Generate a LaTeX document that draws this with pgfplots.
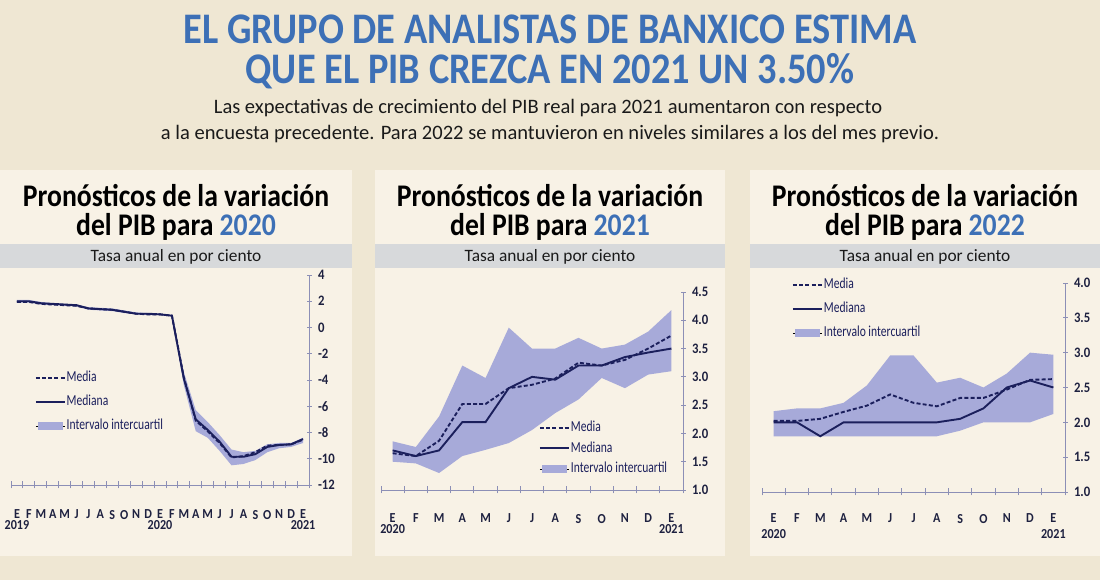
\documentclass[border=0pt]{standalone}
\usepackage{fontspec}
\setmainfont{Carlito}[FakeStretch=0.88]
\newfontfamily\widefont{Carlito}
\newfontfamily\condfont{Carlito}[FakeStretch=0.76]
\usepackage{pgfplots}
\pgfplotsset{compat=1.18}
\definecolor{bgout}{HTML}{EFE7D3}
\definecolor{panel}{HTML}{F8F2E6}
\definecolor{grayband}{HTML}{D7D9DB}
\definecolor{ttlblue}{HTML}{3D70B6}
\definecolor{navy}{HTML}{1B1F5C}
\definecolor{bandc}{HTML}{A7AAD9}
\definecolor{axiscol}{HTML}{8C8FB6}
\definecolor{tickc}{HTML}{1E2140}
\definecolor{txt}{HTML}{1A1A1A}

\tikzset{
  medline/.style={navy, line width=1.9bp},
  meanline/.style={navy, line width=1.9bp, dash pattern=on 4bp off 2.2bp},
}
\pgfplotsset{
  panel/.style={
    scale only axis,
    axis x line*=bottom, axis y line*=right,
    axis line style={axiscol, line width=0.9bp},
    tick style={axiscol, line width=0.9bp},
    major tick length=5bp, minor tick length=7bp,
    tick align=center,
    major x tick style={draw=none},
    yticklabel pos=right,
    /pgf/number format/assume math mode=true,
    yticklabel style={font=\bfseries\fontsize{14.5}{15}\selectfont, text=tickc, xshift=3bp},
    xticklabel style={font=\bfseries\fontsize{13.8}{10.5}\selectfont, text=tickc, align=center, anchor=north},
    legend style={draw=none, fill=none, inner sep=0pt, outer sep=0pt,
      font=\condfont\fontsize{15.3}{16}\selectfont, text=navy,
      nodes={inner sep=1bp, text height=11bp, text depth=3bp},
      cells={anchor=west}},
  },
  legmean/.style={legend image code/.code={\draw[navy, line width=1.9bp, dash pattern=on 4bp off 2.2bp] (0bp,0bp)--(29bp,0bp);}},
  legmed/.style={legend image code/.code={\draw[navy, line width=1.9bp] (0bp,0bp)--(29bp,0bp);}},
  legband/.style={legend image code/.code={\path (0bp,0bp)--(29bp,0bp); \fill[bandc] (2bp,-3.5bp) rectangle (26bp,3.5bp);}},
}
\newcommand\mylegend{%
\addlegendimage{legmean}
\addlegendentry{Media}
\addlegendimage{legmed}
\addlegendentry{Mediana}
\addlegendimage{legband}
\addlegendentry{Intervalo intercuartil}
}

\begin{document}
\begin{tikzpicture}[x=1bp,y=1bp]
\fill[bgout] (0,0) rectangle (1100,580);
% panels
\fill[panel] (0,24) rectangle (352,410);
\fill[panel] (375,24) rectangle (725,410);
\fill[panel] (750,24) rectangle (1100,410);
\fill[grayband] (0,312) rectangle (352,336);
\fill[grayband] (375,312) rectangle (725,336);
\fill[grayband] (750,312) rectangle (1100,336);

% headline
\node[anchor=base, text=ttlblue, font=\bfseries\fontsize{43.8}{44}\selectfont, inner sep=0pt] at (550,536) {EL GRUPO DE ANALISTAS DE BANXICO ESTIMA};
\node[anchor=base, text=ttlblue, font=\bfseries\fontsize{43.8}{44}\selectfont, inner sep=0pt] at (550,496) {QUE EL PIB CREZCA EN 2021 UN 3.50\%};
\node[anchor=base, text=txt, font=\widefont\fontsize{20.6}{21}\selectfont, inner sep=0pt] at (548,466) {Las expectativas de crecimiento del PIB real para 2021 aumentaron con respecto};
\node[anchor=base, text=txt, font=\widefont\fontsize{20.6}{21}\selectfont, inner sep=0pt] at (550,440) {a la encuesta precedente. Para 2022 se mantuvieron en niveles similares a los del mes previo.};

% panel titles
\foreach \cx/\yr in {176/2020, 550/2021, 925/2022}{
  \node[anchor=base, text=black, font=\bfseries\fontsize{31.6}{32}\selectfont, inner sep=0pt] at (\cx,373) {Pronósticos de la variación};
  \node[anchor=base, text=black, font=\bfseries\fontsize{31.6}{32}\selectfont, inner sep=0pt] at (\cx,344) {del PIB para \textcolor{ttlblue}{\yr}};
  \node[anchor=base, text=txt, font=\widefont\fontsize{17.4}{18}\selectfont, inner sep=0pt] at (\cx,318.5) {Tasa anual en por ciento};
}

% ---------- Panel 1 : 2020 ----------
\begin{axis}[panel, at={(11bp,95bp)}, anchor=south west, width=298bp, height=210bp,
  xmin=-0.5, xmax=24.5, ymin=-12, ymax=4,
  xtick={0,...,24},
  minor xtick={-0.5,0.5,...,24.5},
  xticklabels={{E\\2019},F,M,A,M,J,J,A,S,O,N,D,{E\\2020},F,M,A,M,J,J,A,S,O,N,D,{E\\2021}},
  xticklabel style={yshift=-19bp},
  ytick={-12,-10,...,4},
  legend style={at={(0.08,0.548)}, anchor=north west, row sep=8bp},
]
\mylegend
\addplot[fill=bandc, draw=none, forget plot] coordinates {
(0,2.1)(1,2.1)(2,1.95)(3,1.85)(4,1.8)(5,1.75)(6,1.55)(7,1.5)(8,1.45)(9,1.3)(10,1.15)(11,1.1)(12,1.05)(13,0.95)
(14,-3.4)(15,-6.3)(16,-7.2)(17,-8.2)(18,-9.3)(19,-9.5)(20,-9.4)(21,-8.9)(22,-8.8)(23,-8.8)(24,-8.4)
(24,-8.8)(23,-9.1)(22,-9.2)(21,-9.5)(20,-10.1)(19,-10.4)(18,-10.5)(17,-9.4)(16,-8.4)(15,-7.9)(14,-4.4)
(13,0.85)(12,0.95)(11,0.95)(10,1.0)(9,1.1)(8,1.25)(7,1.3)(6,1.35)(5,1.6)(4,1.65)(3,1.7)(2,1.75)(1,1.9)(0,1.9)} -- cycle;
\addplot[medline, forget plot] coordinates {
(0,2.0)(1,2.0)(2,1.85)(3,1.8)(4,1.75)(5,1.7)(6,1.45)(7,1.4)(8,1.35)(9,1.2)(10,1.05)(11,1.05)(12,1.0)(13,0.9)
(14,-3.9)(15,-7.0)(16,-7.8)(17,-8.7)(18,-9.85)(19,-9.85)(20,-9.65)(21,-9.1)(22,-8.95)(23,-8.9)(24,-8.5)};
\addplot[meanline, forget plot] coordinates {
(0,1.95)(1,1.95)(2,1.8)(3,1.75)(4,1.7)(5,1.65)(6,1.45)(7,1.4)(8,1.35)(9,1.2)(10,1.05)(11,1.0)(12,1.0)(13,0.9)
(14,-3.8)(15,-7.1)(16,-7.9)(17,-8.8)(18,-9.9)(19,-9.8)(20,-9.5)(21,-9.0)(22,-8.95)(23,-8.9)(24,-8.55)};
\end{axis}

% ---------- Panel 2 : 2021 ----------
\begin{axis}[panel, at={(381bp,90bp)}, anchor=south west, width=302bp, height=198bp,
  xmin=-0.5, xmax=12.5, ymin=1, ymax=4.5,
  xtick={0,...,12},
  minor xtick={-0.5,0.5,...,12.5},
  xticklabels={{E\\2020},F,M,A,M,J,J,A,S,O,N,D,{E\\2021}},
  xticklabel style={yshift=-18bp},
  ytick={1,1.5,...,4.5},
  yticklabel={\pgfmathprintnumber[fixed,fixed zerofill,precision=1]{\tick}},
  legend style={at={(0.523,0.354)}, anchor=north west, row sep=4.5bp},
]
\mylegend
\addplot[fill=bandc, draw=none, forget plot] coordinates {
(0,1.86)(1,1.76)(2,2.3)(3,3.2)(4,2.98)(5,3.87)(6,3.5)(7,3.5)(8,3.69)(9,3.5)(10,3.57)(11,3.8)(12,4.18)
(12,3.1)(11,3.04)(10,2.8)(9,2.98)(8,2.6)(7,2.36)(6,2.06)(5,1.83)(4,1.71)(3,1.6)(2,1.3)(1,1.47)(0,1.5)} -- cycle;
\addplot[medline, forget plot] coordinates {
(0,1.7)(1,1.6)(2,1.7)(3,2.2)(4,2.2)(5,2.8)(6,3.0)(7,2.95)(8,3.2)(9,3.2)(10,3.35)(11,3.43)(12,3.5)};
\addplot[meanline, forget plot] coordinates {
(0,1.65)(1,1.6)(2,1.87)(3,2.52)(4,2.52)(5,2.8)(6,2.86)(7,2.97)(8,3.25)(9,3.2)(10,3.3)(11,3.5)(12,3.73)};
\end{axis}

% ---------- Panel 3 : 2022 ----------
\begin{axis}[panel, at={(762bp,88bp)}, anchor=south west, width=303bp, height=209bp,
  xmin=-0.5, xmax=12.5, ymin=1, ymax=4,
  xtick={0,...,12},
  minor xtick={-0.5,0.5,...,12.5},
  xticklabels={{E\\[5bp]2020},F,M,A,M,J,J,A,S,O,N,D,{E\\[5bp]2021}},
  xticklabel style={yshift=-16bp},
  ytick={1,1.5,...,4},
  yticklabel={\pgfmathprintnumber[fixed,fixed zerofill,precision=1]{\tick}},
  legend style={at={(0.099,1.029)}, anchor=north west, row sep=8bp},
]
\mylegend
\addplot[fill=bandc, draw=none, forget plot] coordinates {
(0,2.16)(1,2.2)(2,2.2)(3,2.28)(4,2.53)(5,2.96)(6,2.96)(7,2.57)(8,2.64)(9,2.5)(10,2.7)(11,3.0)(12,2.97)
(12,2.12)(11,2.0)(10,2.0)(9,2.0)(8,1.88)(7,1.8)(6,1.8)(5,1.8)(4,1.8)(3,1.8)(2,1.8)(1,1.8)(0,1.8)} -- cycle;
\addplot[medline, forget plot] coordinates {
(0,2.0)(1,2.0)(2,1.8)(3,2.0)(4,2.0)(5,2.0)(6,2.0)(7,2.0)(8,2.05)(9,2.2)(10,2.5)(11,2.6)(12,2.5)};
\addplot[meanline, forget plot] coordinates {
(0,2.02)(1,2.02)(2,2.05)(3,2.15)(4,2.24)(5,2.4)(6,2.28)(7,2.23)(8,2.35)(9,2.35)(10,2.47)(11,2.61)(12,2.62)};
\end{axis}

\pgfresetboundingbox
\useasboundingbox (0,0) rectangle (1100,580);
\end{tikzpicture}
\end{document}
